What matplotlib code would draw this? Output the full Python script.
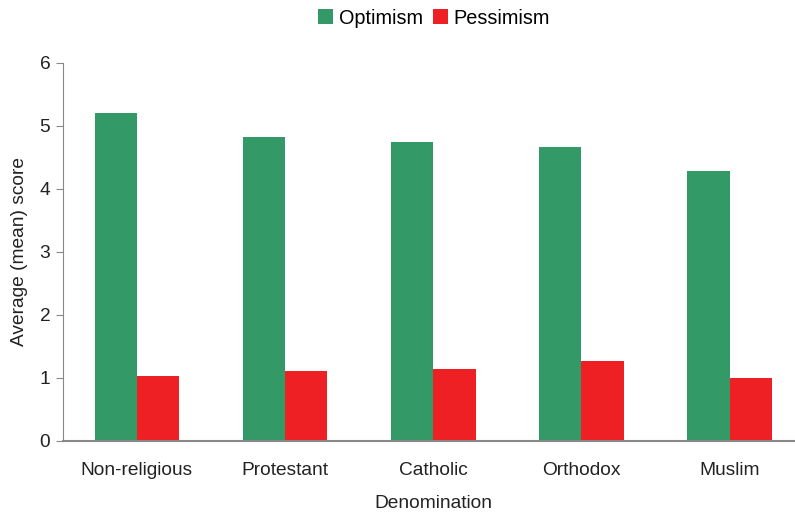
import numpy as np
import matplotlib
matplotlib.use("Agg")
import matplotlib.pyplot as plt

# data
denominations = ["Non-religious", "Protestant", "Catholic", "Orthodox", "Muslim"]
optimism = [5.21, 4.83, 4.75, 4.67, 4.29]
pessimism = [1.03, 1.11, 1.14, 1.27, 1.00]

plt.rcParams["font.family"] = ["Liberation Sans", "DejaVu Sans"]
plt.rcParams["font.size"] = 13.8

fig = plt.figure(figsize=(7.95, 5.15), dpi=100)
ax = fig.add_axes([0.079, 0.144, 0.932, 0.734])

x = np.arange(len(denominations))
w = 0.285
ax.bar(x - w / 2, optimism, w, color="#339966", label="Optimism")
ax.bar(x + w / 2, pessimism, w, color="#ee2024", label="Pessimism")

ax.set_xlim(-0.5, len(denominations) - 0.5)
ax.set_ylim(0, 6)
ax.set_yticks(range(0, 7))
ax.set_xticks(x)
ax.set_xticklabels(denominations)
ax.tick_params(axis="x", length=0, pad=15, colors="#222222")
ax.tick_params(axis="y", length=5, width=0.8, color="#888888",
               labelcolor="#222222", pad=4)

for s in ["top", "right"]:
    ax.spines[s].set_visible(False)
ax.spines["left"].set_color("#888888")
ax.spines["bottom"].set_color("#888888")
ax.spines["bottom"].set_linewidth(1.5)

ax.set_xlabel("Denomination", color="#222222", labelpad=12)
ax.set_ylabel("Average (mean) score", color="#222222", labelpad=8)

fig.legend(loc="upper center", bbox_to_anchor=(0.546, 1.018), ncol=2, frameon=False,
           handlelength=0.75, handleheight=0.75, handletextpad=0.3, columnspacing=0.5,
           fontsize=14.3)

fig.savefig("out.png", dpi=100)
